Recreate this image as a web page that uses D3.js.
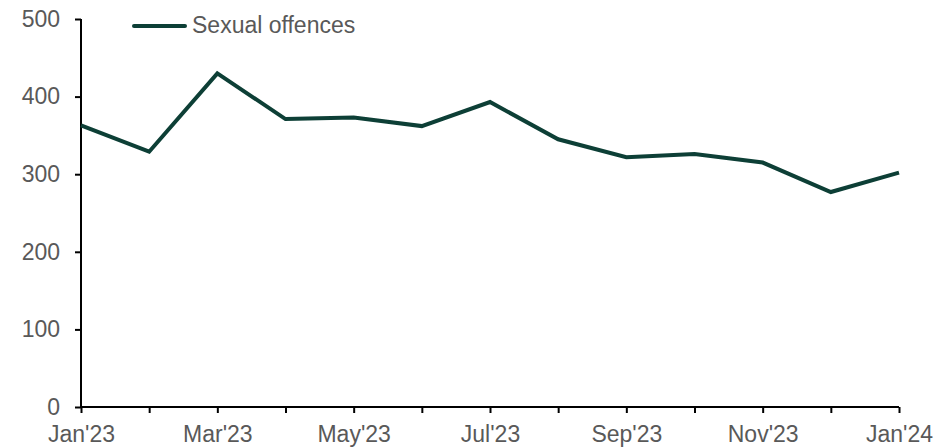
<!DOCTYPE html>
<html><head><meta charset="utf-8">
<script src="https://cdn.jsdelivr.net/npm/d3@7"></script>
<style>body{margin:0;background:#fff}svg{display:block}</style>
</head><body>
<script>
const months = ["Jan'23","Feb'23","Mar'23","Apr'23","May'23","Jun'23","Jul'23","Aug'23","Sep'23","Oct'23","Nov'23","Dec'23","Jan'24"];
const sexualOffences = [363,329,430,371,373,362,393,345,322,326,315,277,302];
const yTicks = [0,100,200,300,400,500];
const seriesName = "Sexual offences";

const W=937,H=447;
const svg=d3.select("body").append("svg").attr("width",W).attr("height",H);
const x=d3.scalePoint().domain(months).range([81,899]);
const y=d3.scaleLinear().domain([0,500]).range([407,19]);
const font="Liberation Sans, Arial, sans-serif";
const fs="23px";

const yAxis=svg.append("g").attr("transform","translate(81,0)")
  .call(d3.axisLeft(y).tickValues(yTicks).tickSize(6).tickPadding(15).tickFormat(d3.format("d")));
const xAxis=svg.append("g").attr("transform","translate(0,407)")
  .call(d3.axisBottom(x).tickSize(6).tickPadding(13).tickFormat((d,i)=>i%2===0?d:""));
[yAxis,xAxis].forEach(g=>{
  g.selectAll("path,line").attr("stroke","#000").attr("stroke-width",2);
  g.select(".domain").attr("d", g===yAxis? "M0,19V407":"M81,0H899");
  g.selectAll("text").attr("fill","#595959").style("font-family",font).style("font-size",fs);
});

const line=d3.line().x((d,i)=>x(months[i])).y(d=>y(d));
svg.append("path").datum(sexualOffences).attr("d",line)
  .attr("fill","none").attr("stroke","#0d3f36").attr("stroke-width",4).attr("stroke-linejoin","miter");

const lg=svg.append("g");
lg.append("line").attr("x1",134).attr("x2",185).attr("y1",26).attr("y2",26)
  .attr("stroke","#0d3f36").attr("stroke-width",4).attr("stroke-linecap","round");
lg.append("text").attr("x",192).attr("y",33).text(seriesName)
  .attr("fill","#595959").style("font-family",font).style("font-size",fs);
</script>
</body></html>
